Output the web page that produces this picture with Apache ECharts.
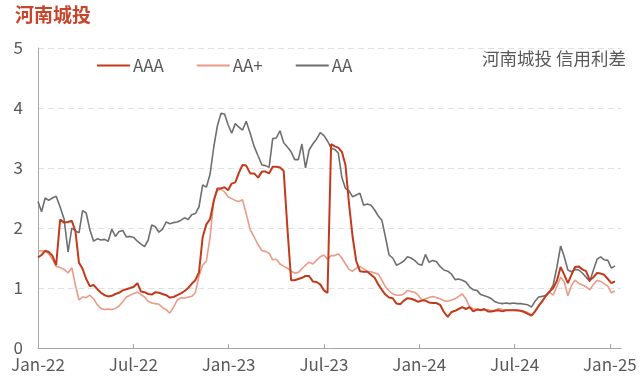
<!DOCTYPE html>
<html>
<head>
<meta charset="utf-8">
<script src="https://cdn.jsdelivr.net/npm/echarts@6/dist/echarts.min.js"></script>
<style>
html,body{margin:0;padding:0;background:#fff;}
#chart{width:640px;height:386px;}
</style>
</head>
<body>
<div id="chart"></div>
<script>
// Weekly observations starting 2022-01-01
const startDate = '2022-01-01';
const seriesNames = ['AAA', 'AA+', 'AA'];
const xTickLabels = ['Jan-22', 'Jul-22', 'Jan-23', 'Jul-23', 'Jan-24', 'Jul-24', 'Jan-25'];

const aaa = [
1.51,1.55,1.62,1.60,1.54,1.38,2.14,2.09,2.10,2.12,1.95,1.42,1.32,1.15,1.03,1.05,0.98,0.92,0.88,0.86,
0.87,0.90,0.92,0.96,0.98,1.00,1.02,1.08,0.94,0.93,0.90,0.89,0.93,0.92,0.90,0.88,0.84,0.85,0.88,0.91,
0.95,1.00,1.07,1.13,1.26,1.85,2.06,2.15,2.45,2.66,2.66,2.68,2.63,2.74,2.76,2.92,3.05,3.04,2.91,2.91,
2.84,2.94,2.94,2.91,3.02,3.02,3.01,2.95,2.00,1.13,1.13,1.15,1.17,1.20,1.20,1.11,1.10,1.06,0.96,0.92,
3.40,3.36,3.34,3.27,3.05,2.40,1.85,1.45,1.28,1.27,1.27,1.22,1.17,1.06,0.97,0.89,0.84,0.83,0.74,0.73,
0.79,0.83,0.82,0.80,0.77,0.79,0.79,0.76,0.75,0.75,0.72,0.60,0.52,0.60,0.62,0.65,0.68,0.65,0.68,0.61,
0.64,0.63,0.65,0.61,0.61,0.62,0.63,0.61,0.63,0.63,0.63,0.63,0.62,0.60,0.57,0.54,0.61,0.70,0.78,0.87,
0.94,1.00,1.12,1.35,1.22,1.08,1.22,1.35,1.36,1.31,1.28,1.13,1.18,1.25,1.24,1.22,1.15,1.08,1.11
];
const aaPlus = [
1.61,1.62,1.61,1.57,1.48,1.36,1.34,1.31,1.25,1.34,1.05,0.80,0.85,0.84,0.88,0.82,0.72,0.66,0.64,0.65,
0.64,0.66,0.70,0.77,0.85,0.88,0.91,0.93,0.89,0.85,0.78,0.75,0.74,0.73,0.67,0.64,0.58,0.68,0.80,0.84,
0.83,0.85,0.86,0.92,1.20,1.38,1.45,1.85,2.47,2.62,2.65,2.60,2.52,2.49,2.46,2.44,2.47,2.24,1.97,1.85,
1.72,1.62,1.61,1.58,1.47,1.48,1.40,1.36,1.33,1.28,1.25,1.26,1.32,1.38,1.43,1.40,1.46,1.52,1.55,1.48,
1.54,1.54,1.57,1.50,1.40,1.31,1.28,1.33,1.36,1.32,1.28,1.27,1.25,1.23,1.13,1.02,0.95,0.90,0.88,0.88,
0.90,0.96,0.94,0.93,0.88,0.80,0.82,0.84,0.86,0.84,0.82,0.79,0.78,0.80,0.82,0.86,0.90,0.82,0.69,0.65,
0.65,0.64,0.63,0.64,0.62,0.63,0.66,0.64,0.63,0.63,0.63,0.62,0.62,0.61,0.59,0.55,0.61,0.71,0.77,0.86,
0.93,0.88,1.03,1.18,1.10,0.87,1.04,1.13,1.08,1.05,1.02,0.97,1.06,1.13,1.11,1.07,1.03,0.92,0.95
];
const aa = [
2.44,2.27,2.50,2.46,2.50,2.53,2.35,2.15,1.60,2.00,1.95,1.92,2.29,2.25,1.97,1.78,1.82,1.80,1.81,1.78,
1.98,1.86,1.94,1.96,1.85,1.86,1.84,1.78,1.73,1.69,1.80,2.05,2.02,1.93,1.98,2.10,2.07,2.09,2.10,2.13,
2.17,2.14,2.22,2.24,2.35,2.72,2.68,2.90,3.35,3.70,3.91,3.90,3.72,3.58,3.74,3.68,3.63,3.78,3.58,3.36,
3.20,3.05,3.04,3.01,3.49,3.50,3.62,3.42,3.35,3.27,3.14,3.14,3.40,3.00,3.30,3.40,3.48,3.59,3.54,3.45,
3.33,3.31,3.25,2.84,2.66,2.62,2.52,2.55,2.58,2.38,2.40,2.38,2.30,2.20,2.13,1.85,1.55,1.50,1.38,1.41,
1.45,1.52,1.50,1.46,1.40,1.38,1.56,1.43,1.46,1.44,1.36,1.30,1.28,1.23,1.14,1.15,1.13,1.10,1.02,0.97,
0.96,0.89,0.87,0.85,0.82,0.77,0.75,0.74,0.75,0.74,0.75,0.74,0.74,0.73,0.72,0.68,0.78,0.85,0.86,0.88,
0.94,1.05,1.35,1.70,1.52,1.30,1.27,1.31,1.30,1.25,1.18,1.11,1.30,1.48,1.52,1.47,1.46,1.33,1.37
];

// date -> fractional month index since Jan 2022
function monthPos(d) {
  const y = d.getUTCFullYear(), m = d.getUTCMonth(), day = d.getUTCDate();
  const dim = new Date(Date.UTC(y, m + 1, 0)).getUTCDate();
  return (y - 2022) * 12 + m + (day - 1) / dim;
}
const t0 = Date.parse(startDate + 'T00:00:00Z');
function pairs(vals) {
  return vals.map((v, i) => [monthPos(new Date(t0 + i * 7 * 86400000)), v]);
}

const FONT = '"Noto Sans CJK SC", "Noto Sans", sans-serif';
const chart = echarts.init(document.getElementById('chart'), null, {renderer: 'canvas'});
chart.setOption({
  animation: false,
  backgroundColor: '#fff',
  title: [{
    text: '河南城投', left: 10, top: 0,
    textStyle: {color: '#c8442a', fontSize: 19, fontWeight: 'bold', fontFamily: FONT}
  }, {
    text: '河南城投 信用利差', right: 9, top: 45,
    textStyle: {color: '#595959', fontSize: 17.5, fontWeight: 'normal', fontFamily: FONT}
  }],
  legend: {
    left: 97, top: 57, padding: 0, itemWidth: 33, itemHeight: 2, itemGap: 33,
    icon: 'rect',
    textStyle: {color: '#595959', fontSize: 17, fontFamily: FONT, padding: [0, 0, 0, -2]},
    data: seriesNames
  },
  grid: {left: 38, right: 19, top: 48, bottom: 38, containLabel: false},
  xAxis: {
    type: 'value', min: 0, max: 36.7, interval: 6,
    axisLine: {show: true, lineStyle: {color: '#a6a6a6', width: 1}},
    axisTick: {show: true, inside: true, length: 4, lineStyle: {color: '#a6a6a6'}},
    splitLine: {show: false},
    axisLabel: {
      color: '#595959', fontSize: 17, fontFamily: FONT, margin: 8,
      showMaxLabel: false,
      formatter: function (v) {
        if (Math.abs(v - Math.round(v)) > 1e-6 || Math.round(v) % 6 !== 0) return '';
        return xTickLabels[Math.round(v) / 6] || '';
      }
    }
  },
  yAxis: {
    type: 'value', min: 0, max: 5, interval: 1,
    axisLine: {show: true, lineStyle: {color: '#a6a6a6', width: 1}},
    axisTick: {show: false},
    splitLine: {show: true, lineStyle: {color: '#e0e0e0', type: [6, 4], width: 1}},
    axisLabel: {color: '#595959', fontSize: 17, fontFamily: FONT, margin: 15}
  },
  series: [
    {name: 'AAA', type: 'line', data: pairs(aaa), symbol: 'none', showSymbol: false,
     lineStyle: {color: '#c23a1c', width: 2}, itemStyle: {color: '#c23a1c'}, z: 4},
    {name: 'AA+', type: 'line', data: pairs(aaPlus), symbol: 'none', showSymbol: false,
     lineStyle: {color: '#eb9a86', width: 1.6}, itemStyle: {color: '#eb9a86'}, z: 3},
    {name: 'AA', type: 'line', data: pairs(aa), symbol: 'none', showSymbol: false,
     lineStyle: {color: '#6f6f6f', width: 1.6}, itemStyle: {color: '#6f6f6f'}, z: 2}
  ]
});
</script>
</body>
</html>
